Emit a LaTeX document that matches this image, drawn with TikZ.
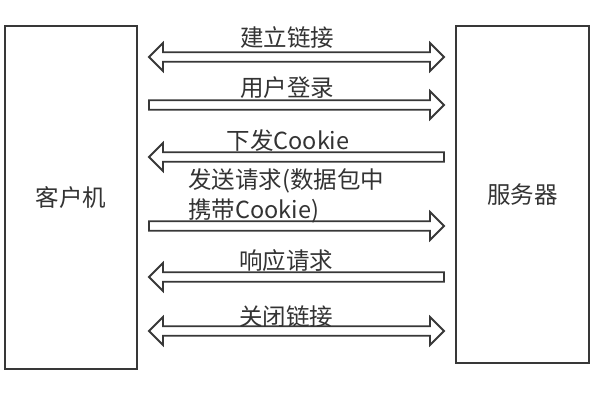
\documentclass[tikz,border=0pt]{standalone}
\usepackage{fontspec}
\setmainfont{Noto Sans CJK SC}
\usetikzlibrary{calc}
\definecolor{linec}{HTML}{383838}
\definecolor{textc}{HTML}{333333}
\newcommand{\ArrowBoth}[2]{%
  \draw[harrow] (#1) -- ++(14,-14) -- ++(0,9.3) -- ($(#2)+(-14,-4.7)$) -- ++(0,-9.3) -- (#2)
    -- ++(-14,14) -- ++(0,-9.3) -- ($(#1)+(14,4.7)$) -- ++(0,9.3) -- cycle;}
\newcommand{\ArrowRight}[2]{%
  \draw[harrow] ($(#1)+(0,-4.7)$) -- ($(#2)+(-14,-4.7)$) -- ++(0,-9.3) -- (#2)
    -- ++(-14,14) -- ++(0,-9.3) -- ($(#1)+(0,4.7)$) -- cycle;}
\newcommand{\ArrowLeft}[2]{%
  \draw[harrow] (#1) -- ++(14,-14) -- ++(0,9.3) -- ($(#2)+(0,-4.7)$) -- ($(#2)+(0,4.7)$)
    -- ($(#1)+(14,4.7)$) -- ++(0,9.3) -- cycle;}
\begin{document}
\begin{tikzpicture}[x=1pt,y=-1pt,
  box/.style={draw=linec,line width=2pt,fill=white,text=textc,
    font=\fontsize{23.5}{28}\selectfont,inner sep=0pt},
  lbl/.style={text=textc,font=\fontsize{23.5}{30}\selectfont,inner sep=0pt},
  harrow/.style={draw=linec,line width=1.8pt,line join=miter,fill=white}]
\useasboundingbox[fill=white] (0,0) rectangle (600,400);
\node[box,minimum width=132pt,minimum height=343pt,anchor=north west] (client) at (4,25) {客户机};
\node[box,minimum width=133pt,minimum height=337pt,anchor=north west] (server) at (455,25) {服务器};
% arrow end points
\coordinate (a1l) at (149,57);  \coordinate (a1r) at (444,57);
\coordinate (a2l) at (149,105); \coordinate (a2r) at (444,105);
\coordinate (a3l) at (149,157); \coordinate (a3r) at (444,157);
\coordinate (a4l) at (149,226); \coordinate (a4r) at (444,226);
\coordinate (a5l) at (149,277); \coordinate (a5r) at (444,277);
\coordinate (a6l) at (149,331); \coordinate (a6r) at (444,331);
\ArrowBoth{a1l}{a1r}
\ArrowRight{a2l}{a2r}
\ArrowLeft{a3l}{a3r}
\ArrowRight{a4l}{a4r}
\ArrowLeft{a5l}{a5r}
\ArrowBoth{a6l}{a6r}
% labels
\node[lbl] (t1) at (287,38) {建立链接};
\node[lbl] (t2) at (287,88) {用户登录};
\node[lbl] (t3) at (288,141) {下发Cookie};
\node[lbl,align=left,anchor=north west] (t4) at (188,168) {发送请求(数据包中\\携带Cookie)};
\node[lbl] (t5) at (286,261) {响应请求};
\node[lbl] (t6) at (286,317) {关闭链接};
\end{tikzpicture}
\end{document}
